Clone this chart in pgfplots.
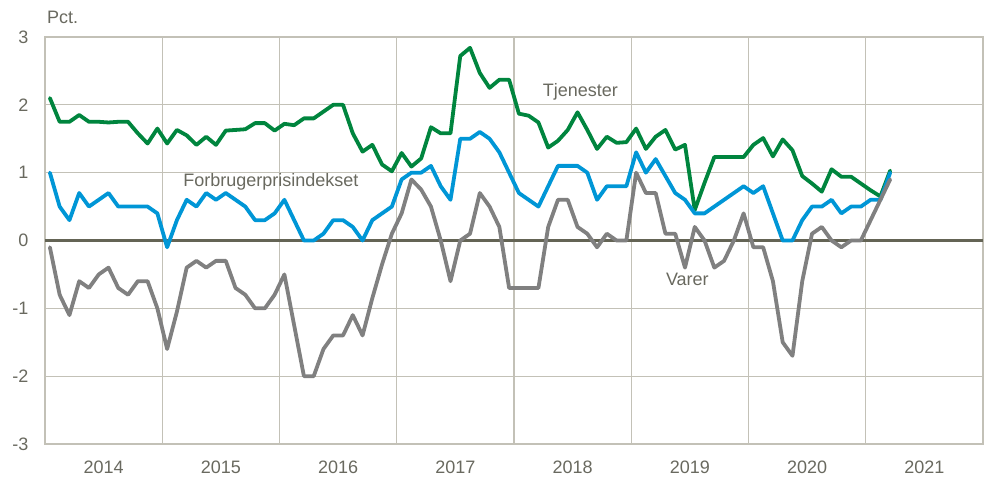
\documentclass[border=0pt]{standalone}
\usepackage{pgfplots}
\usepackage{pgfplotstable}
\pgfplotsset{compat=1.18}
\usepackage{fontspec}
\setmainfont{Liberation Sans}
\definecolor{txt}{RGB}{105,105,95}
\definecolor{gridc}{RGB}{195,193,183}
\definecolor{zeroc}{RGB}{100,100,85}
\definecolor{cgreen}{RGB}{0,133,62}
\definecolor{cblue}{RGB}{0,150,214}
\definecolor{cgray}{RGB}{128,128,128}

\pgfplotstableread{
m tj fpi var
0.5 2.10 1.0 -0.1
1.5 1.75 0.5 -0.8
2.5 1.75 0.3 -1.1
3.5 1.85 0.7 -0.6
4.5 1.75 0.5 -0.7
5.5 1.75 0.6 -0.5
6.5 1.74 0.7 -0.4
7.5 1.75 0.5 -0.7
8.5 1.75 0.5 -0.8
9.5 1.58 0.5 -0.6
10.5 1.43 0.5 -0.6
11.5 1.65 0.4 -1.0
12.5 1.43 -0.1 -1.6
13.5 1.63 0.3 -1.05
14.5 1.55 0.6 -0.4
15.5 1.41 0.5 -0.3
16.5 1.53 0.7 -0.4
17.5 1.41 0.6 -0.3
18.5 1.62 0.7 -0.3
19.5 1.63 0.6 -0.7
20.5 1.64 0.5 -0.8
21.5 1.73 0.3 -1.0
22.5 1.73 0.3 -1.0
23.5 1.62 0.4 -0.8
24.5 1.72 0.6 -0.5
25.5 1.70 0.3 -1.25
26.5 1.80 0.0 -2.0
27.5 1.80 0.0 -2.0
28.5 1.90 0.1 -1.6
29.5 2.00 0.3 -1.4
30.5 2.00 0.3 -1.4
31.5 1.58 0.2 -1.1
32.5 1.31 0.0 -1.4
33.5 1.41 0.3 -0.85
34.5 1.12 0.4 -0.35
35.5 1.02 0.5 0.1
36.5 1.29 0.9 0.4
37.5 1.09 1.0 0.9
38.5 1.21 1.0 0.75
39.5 1.67 1.1 0.5
40.5 1.58 0.8 0.0
41.5 1.58 0.6 -0.6
42.5 2.72 1.5 0.0
43.5 2.84 1.5 0.1
44.5 2.47 1.6 0.7
45.5 2.25 1.5 0.5
46.5 2.37 1.3 0.2
47.5 2.37 1.0 -0.7
48.5 1.87 0.7 -0.7
49.5 1.84 0.6 -0.7
50.5 1.74 0.5 -0.7
51.5 1.37 0.8 0.2
52.5 1.47 1.1 0.6
53.5 1.63 1.1 0.6
54.5 1.89 1.1 0.2
55.5 1.63 1.0 0.1
56.5 1.35 0.6 -0.1
57.5 1.53 0.8 0.1
58.5 1.44 0.8 0.0
59.5 1.45 0.8 0.0
60.5 1.65 1.3 1.0
61.5 1.35 1.0 0.7
62.5 1.53 1.2 0.7
63.5 1.63 0.95 0.1
64.5 1.34 0.7 0.1
65.5 1.41 0.6 -0.4
66.5 0.45 0.4 0.2
67.5 0.85 0.4 0.0
68.5 1.23 0.5 -0.4
69.5 1.23 0.6 -0.3
70.5 1.23 0.7 0.0
71.5 1.23 0.8 0.4
72.5 1.41 0.7 -0.1
73.5 1.51 0.8 -0.1
74.5 1.24 0.4 -0.6
75.5 1.49 0.0 -1.5
76.5 1.33 0.0 -1.7
77.5 0.95 0.3 -0.6
78.5 0.84 0.5 0.1
79.5 0.72 0.5 0.2
80.5 1.05 0.6 0.0
81.5 0.94 0.4 -0.1
82.5 0.94 0.5 0.0
83.5 0.84 0.5 0.0
84.5 0.74 0.6 0.3
85.5 0.65 0.6 0.6
86.5 1.03 1.0 0.9
}\datatable

\begin{document}
\begin{tikzpicture}
\useasboundingbox (-45pt,-38pt) rectangle (940pt,444pt);
\begin{axis}[
  at={(0pt,0pt)}, anchor=south west,
  scale only axis, width=938pt, height=407pt,
  xmin=0, xmax=96, ymin=-3, ymax=3,
  xtick={0,12,...,96},
  x tick label as interval,
  xticklabels={2014,2015,2016,2017,2018,2019,2020,2021},
  ytick={-3,-2,-1,0,1,2,3},
  yticklabels={-3,-2,-1,0,1,2,3},
  grid=major,
  grid style={gridc, line width=1.3pt},
  axis line style={gridc, line width=1.3pt},
  major tick length=0pt,
  tick label style={font=\fontsize{18}{21}\selectfont, text=txt},
  yticklabel style={xshift=-13pt},
  xticklabel style={yshift=-13pt},
  extra y ticks={0},
  extra y tick labels={},
  extra y tick style={grid style={zeroc, line width=2.2pt}},
  clip=false,
  every axis plot/.append style={line width=3.8pt, line join=round, line cap=round, mark=none},
]
\addplot[cgreen] table[x=m, y=tj] {\datatable};
\addplot[cblue] table[x=m, y=fpi] {\datatable};
\addplot[cgray] table[x=m, y=var] {\datatable};

\node[text=txt, font=\fontsize{18}{21}\selectfont] at (axis cs:54.8,2.19) {Tjenester};
\node[text=txt, font=\fontsize{18}{21}\selectfont, anchor=west] at (axis cs:13.8,0.86) {Forbrugerprisindekset};
\node[text=txt, font=\fontsize{18}{21}\selectfont, anchor=west] at (axis cs:63.2,-0.58) {Varer};
\end{axis}
\node[text=txt, font=\fontsize{18}{21}\selectfont, anchor=west, inner sep=0pt] at (2pt,427pt) {Pct.};
\end{tikzpicture}
\end{document}
